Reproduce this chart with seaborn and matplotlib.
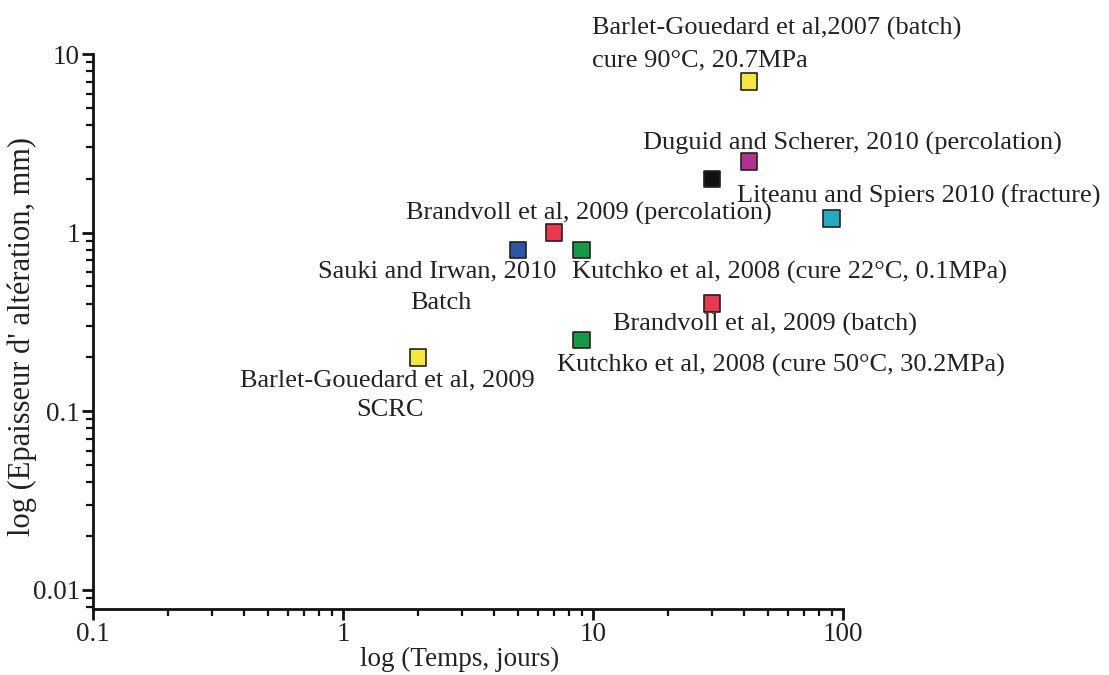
import matplotlib
matplotlib.use("Agg")
import matplotlib.pyplot as plt
import matplotlib.ticker as mticker
import seaborn as sns
import pandas as pd

# Alteration thickness vs exposure time (log-log)
studies = [
    "Barlet-Gouedard 2007", "Duguid 2010", "Black 2010", "Liteanu 2010",
    "Brandvoll perc", "Sauki 2010", "Kutchko 22C", "Brandvoll batch",
    "Kutchko 50C", "Barlet-Gouedard 2009",
]
time_days = [42, 42, 30, 90, 7, 5, 9, 30, 9, 2]
thickness_mm = [7.0, 2.5, 2.0, 1.2, 1.0, 0.8, 0.8, 0.4, 0.25, 0.2]
colors = ["#f6e63f", "#b3318f", "#111111", "#27a9c6", "#e8394f",
          "#2d55a5", "#17994a", "#e8394f", "#17994a", "#f6e63f"]

x_ticks = [0.1, 1, 10, 100]
x_tick_labels = ["0.1", "1", "10", "100"]
y_ticks = [0.01, 0.1, 1, 10]
y_tick_labels = ["0.01", "0.1", "1", "10"]

labels = [
    ("Barlet-Gouedard et al,2007 (batch)", 592, 28, "left"),
    ("cure 90°C, 20.7MPa", 592, 60, "left"),
    ("Duguid and Scherer, 2010 (percolation)", 643, 143, "left"),
    ("Liteanu and Spiers 2010 (fracture)", 737, 196, "left"),
    ("Brandvoll et al, 2009 (percolation)", 406, 213, "left"),
    ("Sauki and Irwan, 2010", 318, 271, "left"),
    ("Batch", 410, 303, "left"),
    ("Kutchko et al, 2008 (cure 22°C, 0.1MPa)", 572, 272, "left"),
    ("Brandvoll et al, 2009 (batch)", 613, 324, "left"),
    ("Kutchko et al, 2008 (cure 50°C, 30.2MPa)", 557, 365, "left"),
    ("Barlet-Gouedard et al, 2009", 240, 380, "left"),
    ("SCRC", 390, 410, "center"),
]

df = pd.DataFrame({"study": studies, "time": time_days, "thick": thickness_mm})

sns.set_theme(style="white")
plt.rcParams["font.family"] = ["Liberation Serif", "DejaVu Serif"]

W, H = 1109, 675
fig = plt.figure(figsize=(W / 100, H / 100), dpi=100)
ax = fig.add_axes([93 / W, (H - 609) / H, (843 - 93) / W, (609 - 54) / H])

sns.scatterplot(
    data=df, x="time", y="thick", hue="study", palette=colors,
    marker="s", s=140, edgecolor="#222222", linewidth=1.2,
    legend=False, ax=ax, zorder=3, clip_on=False,
)

ax.set_xscale("log")
ax.set_yscale("log")
ax.set_xlim(0.1, 100)
ax.set_ylim(0.0078, 10)

ax.xaxis.set_major_locator(mticker.FixedLocator(x_ticks))
ax.xaxis.set_major_formatter(mticker.FixedFormatter(x_tick_labels))
ax.yaxis.set_major_locator(mticker.FixedLocator(y_ticks))
ax.yaxis.set_major_formatter(mticker.FixedFormatter(y_tick_labels))
ax.xaxis.set_minor_locator(mticker.LogLocator(base=10, subs=range(2, 10)))
ax.yaxis.set_minor_locator(mticker.LogLocator(base=10, subs=range(2, 10)))
ax.xaxis.set_minor_formatter(mticker.NullFormatter())
ax.yaxis.set_minor_formatter(mticker.NullFormatter())

for side in ["top", "right"]:
    ax.spines[side].set_visible(False)
for side in ["left", "bottom"]:
    ax.spines[side].set_color("#111111")
    ax.spines[side].set_linewidth(2)

ax.tick_params(which="major", direction="out", length=8, width=2,
               color="#111111", labelsize=19.5, labelcolor="#222222", pad=1.5,
               left=True, bottom=True)
ax.tick_params(which="minor", direction="out", length=5, width=1.6,
               color="#111111", left=True, bottom=True)

ax.set_xlabel("log (Temps, jours)", fontsize=19.5, color="#222222")
ax.set_ylabel("log (Epaisseur d' altération, mm)", fontsize=22,
              color="#222222")
ax.xaxis.set_label_coords((460 - 93) / (843 - 93), -(659 - 609) / (609 - 54))
ax.xaxis.label.set_verticalalignment("center")
ax.yaxis.set_label_coords(-(93 - 22) / (843 - 93), (609 - 336) / (609 - 54))
ax.yaxis.label.set_verticalalignment("center")

for text, px, py, ha in labels:
    fig.text(px / W, 1 - py / H, text, ha=ha, va="center",
             fontsize=19, color="#222222")

fig.savefig("out.png", dpi=100, facecolor="white")
